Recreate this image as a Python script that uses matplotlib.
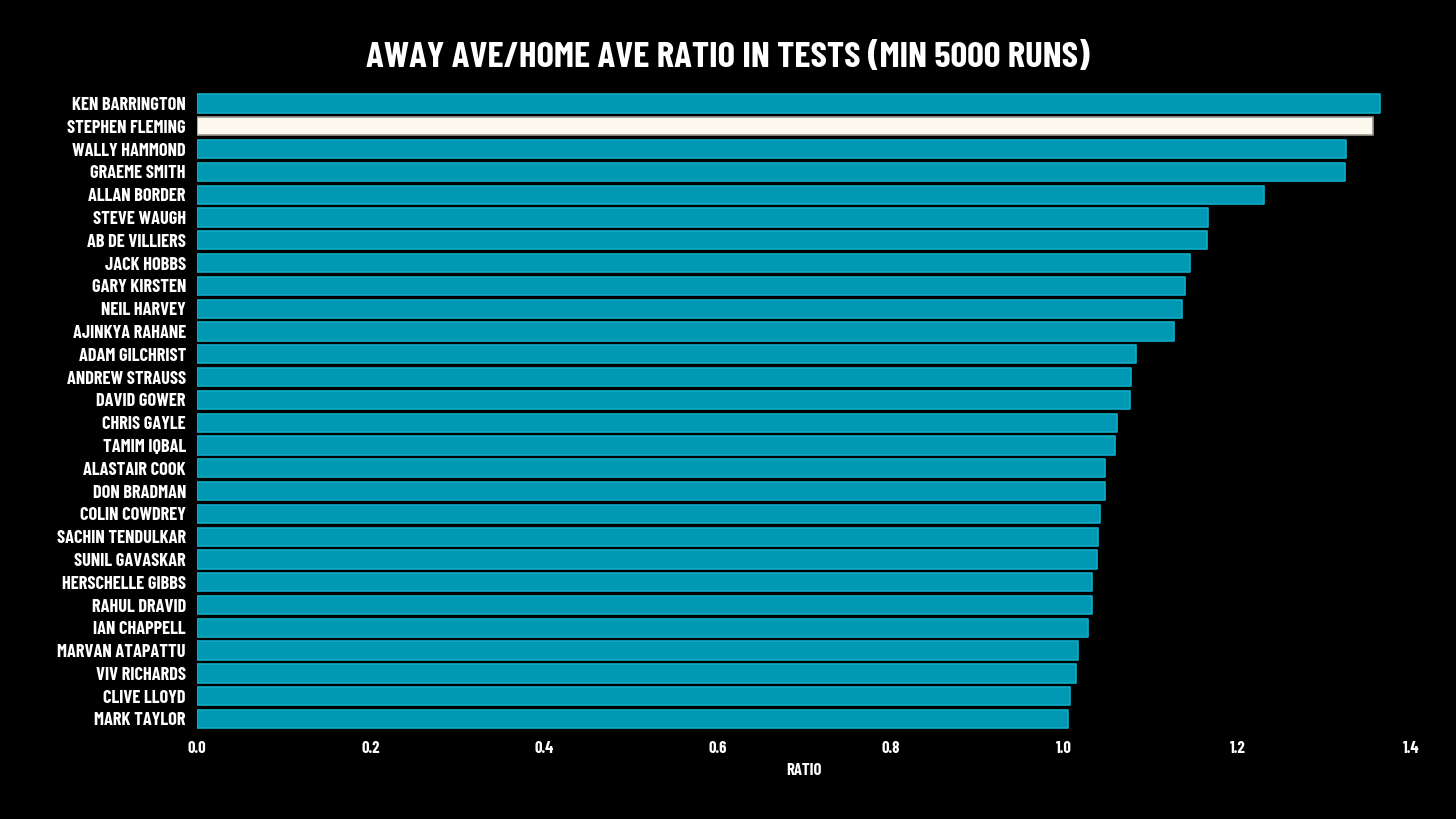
import matplotlib
matplotlib.use('Agg')
import matplotlib.pyplot as plt

# datos (de mayor a menor)
jugadores = ['KEN BARRINGTON', 'STEPHEN FLEMING', 'WALLY HAMMOND', 'GRAEME SMITH',
             'ALLAN BORDER', 'STEVE WAUGH', 'AB DE VILLIERS', 'JACK HOBBS',
             'GARY KIRSTEN', 'NEIL HARVEY', 'AJINKYA RAHANE', 'ADAM GILCHRIST',
             'ANDREW STRAUSS', 'DAVID GOWER', 'CHRIS GAYLE', 'TAMIM IQBAL',
             'ALASTAIR COOK', 'DON BRADMAN', 'COLIN COWDREY', 'SACHIN TENDULKAR',
             'SUNIL GAVASKAR', 'HERSCHELLE GIBBS', 'RAHUL DRAVID', 'IAN CHAPPELL',
             'MARVAN ATAPATTU', 'VIV RICHARDS', 'CLIVE LLOYD', 'MARK TAYLOR']
ratios = [1.364, 1.356, 1.325, 1.324, 1.231, 1.166, 1.165, 1.145,
          1.139, 1.136, 1.127, 1.083, 1.077, 1.076, 1.061, 1.059,
          1.047, 1.047, 1.041, 1.039, 1.038, 1.032, 1.032, 1.028,
          1.016, 1.014, 1.007, 1.004]
destacado = 'STEPHEN FLEMING'
ticks_x = [0.0, 0.2, 0.4, 0.6, 0.8, 1.0, 1.2, 1.4]

TEAL = '#0098b3'
TEAL_BORDE = '#10acc8'
CREMA = '#fdf9ee'
CREMA_BORDE = '#9a9890'

# fuente angosta, con respaldo
plt.rcParams['font.family'] = ['Barlow Condensed', 'Bebas Neue', 'DejaVu Sans']
plt.rcParams['font.weight'] = 'bold'

fig = plt.figure(figsize=(14.56, 8.19), dpi=100, facecolor='black')
ax = fig.add_axes([0.1353, 0.1082, 0.8338, 0.7793], facecolor='black')

y = list(range(len(jugadores)))
colores = [CREMA if j == destacado else TEAL for j in jugadores]
bordes = [CREMA_BORDE if j == destacado else TEAL_BORDE for j in jugadores]
ax.barh(y, ratios, height=0.8, color=colores, edgecolor=bordes,
        linewidth=1.2, joinstyle='round')

ax.set_ylim(len(jugadores) - 0.5, -0.5)
ax.set_xlim(0, 1.4)
ax.set_yticks(y)
ax.set_yticklabels(jugadores)
ax.set_xticks(ticks_x)
ax.set_xticklabels([f'{t:.1f}' for t in ticks_x])

ax.tick_params(axis='y', length=0, pad=8, labelsize=13.2, labelcolor='white')
ax.tick_params(axis='x', length=0, pad=8, labelsize=12, labelcolor='white')
for s in ax.spines.values():
    s.set_visible(False)

ax.set_xlabel('RATIO', color='white', fontsize=12, fontweight='bold', labelpad=5)
fig.text(0.5, 0.929, 'AWAY AVE/HOME AVE RATIO IN TESTS (MIN 5000 RUNS)', color='white',
         fontsize=26.5, fontweight='bold', ha='center', va='center')

fig.savefig('out.png', dpi=100, facecolor='black')
